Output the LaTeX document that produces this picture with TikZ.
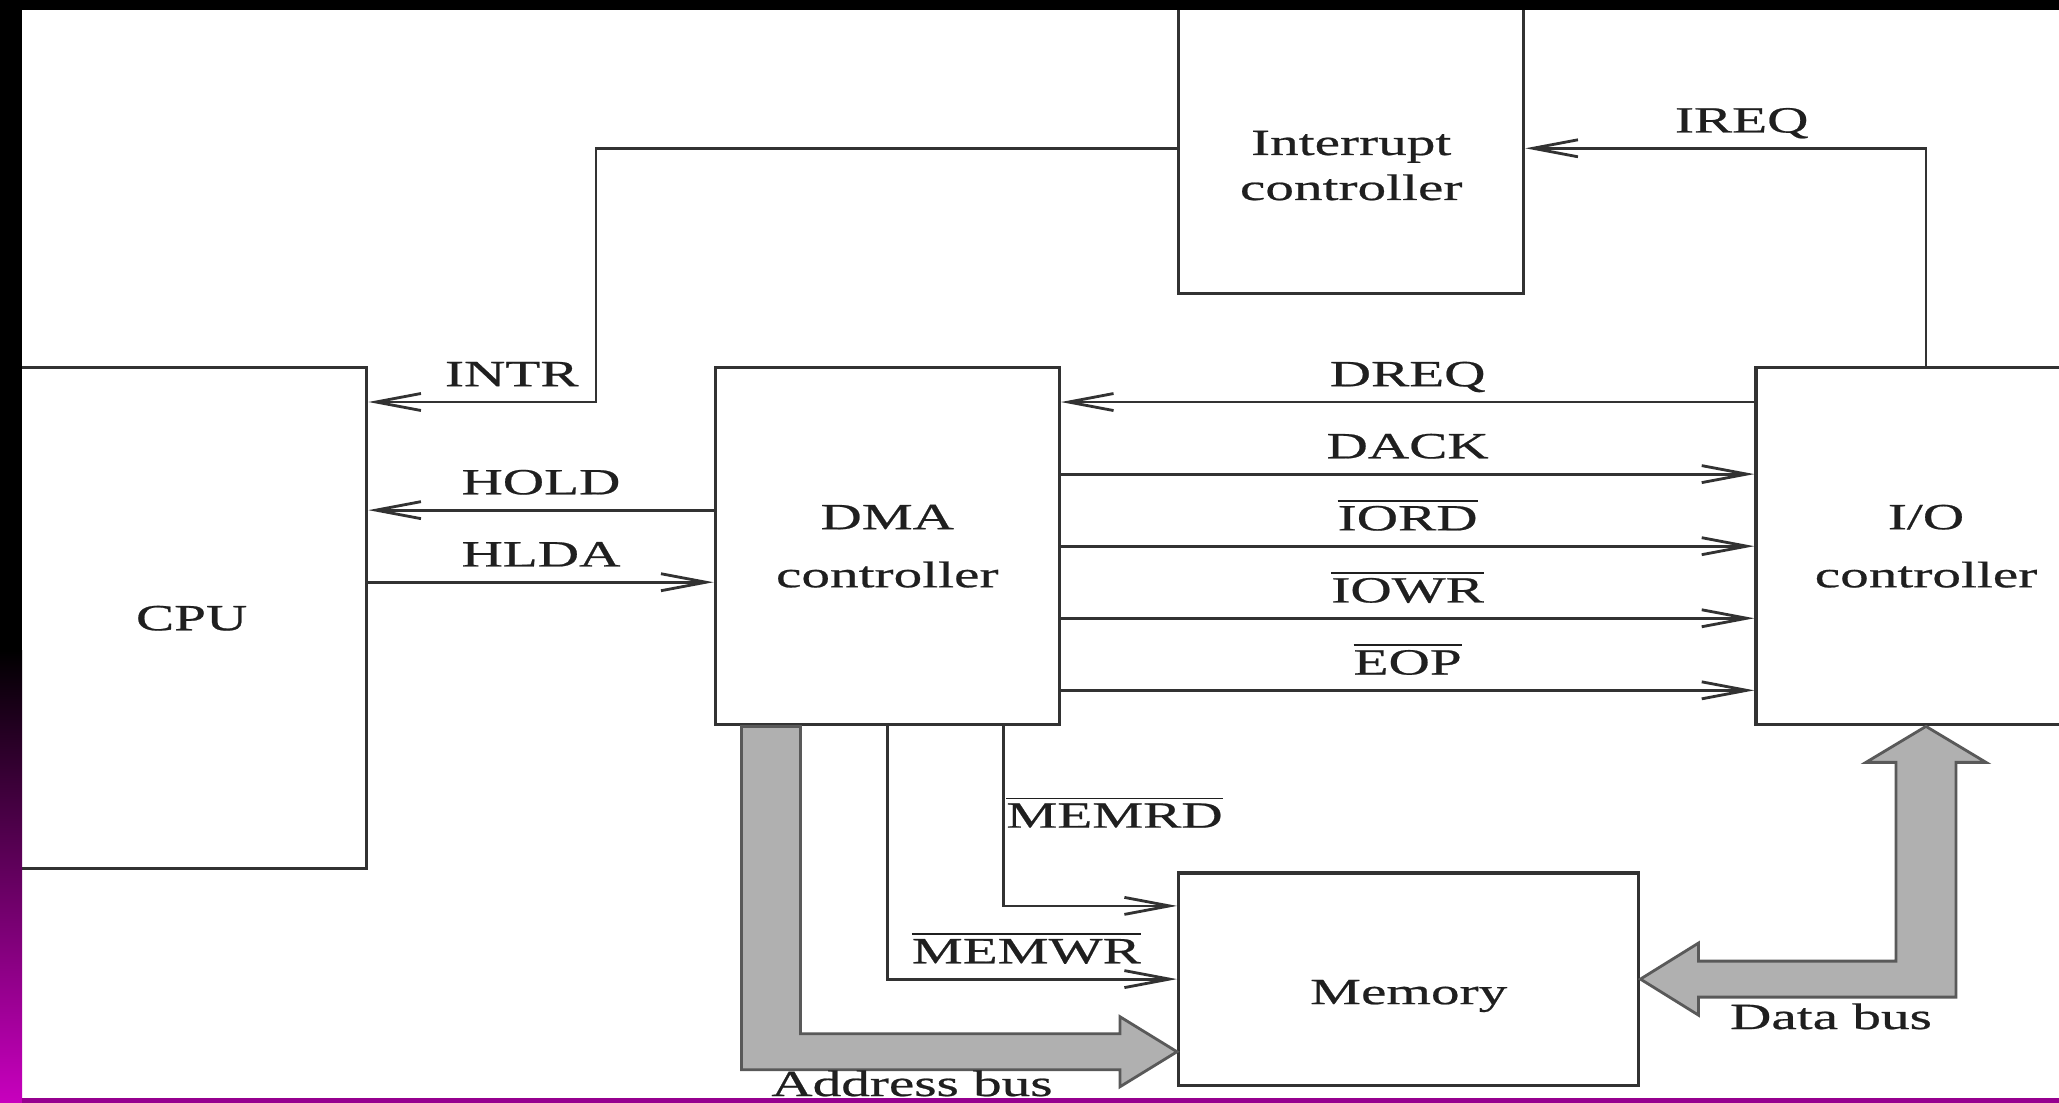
\documentclass[tikz,border=0pt]{standalone}
\usepackage{fontspec}
\setmainfont{Liberation Serif}[FakeStretch=1.55,FakeBold=0.6]
\usetikzlibrary{arrows.meta,positioning,calc}
\definecolor{framemag}{RGB}{200,0,190}
\definecolor{busgray}{RGB}{176,176,176}
\definecolor{linegray}{RGB}{50,50,50}
\newcommand{\lab}{\fontsize{10.5}{12.8}\selectfont\color{black!88}}
\newcommand{\lowsig}[1]{$\overline{\hbox{#1}}$}
\tikzset{
  blk/.style={draw=linegray, line width=0.9pt, align=center, inner sep=0pt, font=\lab},
  sig/.style={draw=linegray, line width=0.8pt, -{Straight Barb[length=4.5mm,width=1.7mm]}},
  lbl/.style={font=\lab, inner sep=0pt, anchor=base, yshift=4.5pt},
  lblw/.style={font=\lab, inner sep=0pt, anchor=base west},
  bus/.style={draw=black!65, fill=busgray, line width=0.8pt, line join=miter}
}

\begin{document}
\begin{tikzpicture}[x=0.01cm, y=-0.01cm]
\useasboundingbox (0,0) rectangle (2059,1103);
\clip (0,0) rectangle (2059,1103);
\fill[white] (0,0) rectangle (2059,1103);

% blocks
\node[blk, anchor=north west, minimum width=3.5cm, minimum height=5.01cm] (cpu) at (15,366) {CPU};
\node[blk, below right=0cm and 3.45cm of cpu.north east, minimum width=3.44cm, minimum height=3.57cm] (dma) {DMA\\[3.7pt]controller};
\node[blk, right=6.93cm of dma, minimum width=3.4cm, minimum height=3.57cm] (io) {I/O\\[3.7pt]controller};
\node[blk, above right=0.71cm and 1.16cm of dma.north east, minimum width=3.45cm, minimum height=2.9cm, text height=29.5pt] (intc) {Interrupt\\controller};
\node[blk, below right=1.45cm and 1.16cm of dma.south east, minimum width=4.6cm, minimum height=2.12cm, text height=16.5pt] (mem) {Memory};

% interrupt path
\coordinate (intrcorner) at (596,402);
\draw[sig] (intc.west) -| (intrcorner) -- (intrcorner -| cpu.east) node[lbl, pos=0.37] {INTR};
\draw[sig] (io.north) |- (intc.east) node[lbl, pos=0.73] {IREQ};

% bus request / grant
\coordinate (holdpt) at ($(dma.north west)!0.4!(dma.south west)$);
\coordinate (hldapt) at ($(dma.north west)!0.6!(dma.south west)$);
\draw[sig] (holdpt) -- (holdpt -| cpu.east) node[lbl, midway] {HOLD};
\draw[sig] (hldapt -| cpu.east) -- (hldapt) node[lbl, midway] {HLDA};

% DMA <-> I/O
\draw[sig] ($(io.north west)!0.1!(io.south west)$) -- ($(dma.north east)!0.1!(dma.south east)$) node[lbl, midway] {DREQ};
\draw[sig] ($(dma.north east)!0.3!(dma.south east)$) -- ($(io.north west)!0.3!(io.south west)$) node[lbl, midway] {DACK};
\draw[sig] ($(dma.north east)!0.5!(dma.south east)$) -- ($(io.north west)!0.5!(io.south west)$) node[lbl, midway] {\lowsig{IORD}};
\draw[sig] ($(dma.north east)!0.7!(dma.south east)$) -- ($(io.north west)!0.7!(io.south west)$) node[lbl, midway] {\lowsig{IOWR}};
\draw[sig] ($(dma.north east)!0.9!(dma.south east)$) -- ($(io.north west)!0.9!(io.south west)$) node[lbl, midway] {\lowsig{EOP}};

% memory strobes
\coordinate (memrd) at ($(dma.south west)!0.834!(dma.south east)$);
\draw[sig] (memrd) |- ($(mem.north west)!0.16!(mem.south west)$) node[lblw, pos=0.282, xshift=0.5pt] {\lowsig{MEMRD}};
\draw[sig] (dma.south) |- (mem.west) node[lbl, pos=0.74] {\lowsig{MEMWR}};

% address bus
\coordinate (atip) at ($(mem.south west)+(0,-35)$);
\draw[bus] ($(dma.south west)+(28,0)$) |- ($(atip)+(-57,18)$) -- ++(0,17) -- (atip) -- ++(-57,-35) -- ++(0,17) -| ($(dma.south west)+(87,0)$) -- cycle;
\node[font=\lab, inner sep=0pt, anchor=base] (abus) at (912,1096) {Address bus};

% data bus
\draw[bus] (mem.east) -- ++(58,-36) -- ++(0,18) -| ($(io.south)+(-30,36)$) -- ++(-30,0) -- (io.south) -- ++(60,36) -- ++(-30,0) |- ($(mem.east)+(58,18)$) -- ++(0,18) -- cycle;
\node[font=\lab, inner sep=0pt, anchor=base] (dbus) at (1831,1029) {Data bus};

% slide frame
\fill[black] (0,0) rectangle (2059,10);
\fill[black] (0,0) rectangle (22,650);
\shade[top color=black, bottom color=framemag] (0,650) rectangle (22,1103);
\fill[framemag!75!black] (22,1098) rectangle (2059,1103);
\end{tikzpicture}
\end{document}
